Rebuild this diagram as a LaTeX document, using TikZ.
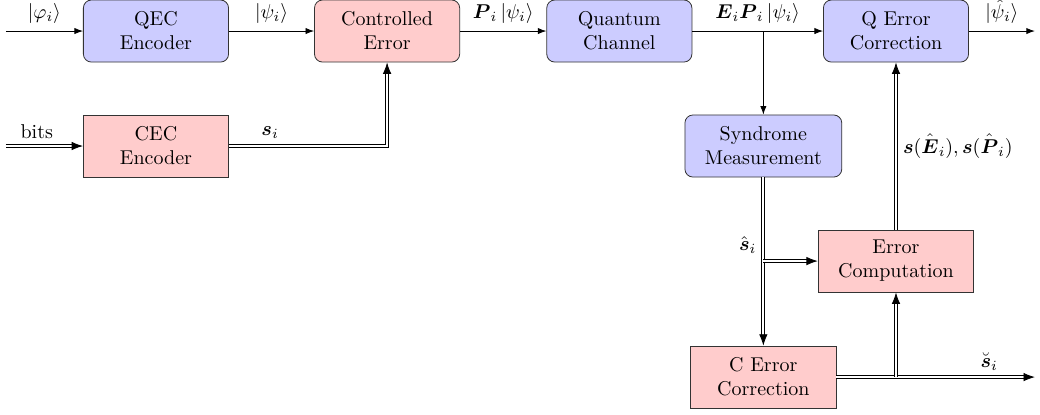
\documentclass[tikz,border=0pt]{standalone}
\usepackage{amsmath}
\usepackage{amssymb}
\usepackage{tikz}
\usetikzlibrary{arrows.meta}

\tikzset{
  qbox/.style={draw=black!80, fill=blue!20, rounded corners=4pt, align=center,
    minimum width=2.55cm, minimum height=1.09cm, inner xsep=10pt},
  cbox/.style={draw=black!80, fill=red!20, align=center,
    minimum width=2.55cm, minimum height=1.09cm, inner xsep=10pt},
  qline/.style={-{Latex[length=1.5mm,width=1.1mm]}},
  cline/.style={double, double distance=1.1pt, -{Latex[length=2mm,width=1.5mm]}}
}

\begin{document}
\begin{tikzpicture}
      \useasboundingbox (0,0) rectangle (18.27,-7.29);
      % boxes
      \node[qbox] (qenc) at (2.74,-0.545) {QEC\\Encoder};
      \node[cbox, rounded corners=4pt] (ctrl) at (6.80,-0.545) {Controlled\\Error};
      \node[qbox] (chan) at (10.88,-0.545) {Quantum\\Channel};
      \node[qbox] (qcor) at (15.74,-0.545) {Q Error\\Correction};
      \node[cbox] (cenc) at (2.74,-2.565) {CEC\\Encoder};
      \node[qbox] (synd) at (13.41,-2.565) {Syndrome\\Measurement};
      \node[cbox] (errc) at (15.74,-4.586) {Error\\Computation};
      \node[cbox] (ccor) at (13.41,-6.624) {C Error\\Correction};
      % free ends
      \coordinate (qin) at (0.105,-0.545);
      \coordinate (qout) at (18.18,-0.545);
      \coordinate (bin) at (0.105,-2.565);
      \coordinate (cout) at (18.18,-6.624);
      \coordinate (tap) at (synd.north |- chan.east);
      \coordinate (shat) at (synd.south |- errc.west);
      \coordinate (ccorout) at (errc.south |- ccor.east);
      % quantum path
      \draw[qline] (qin) -- node[above] {$\lvert\varphi_i\rangle$} (qenc);
      \draw[qline] (qenc) -- node[above] {$\lvert\psi_i\rangle$} (ctrl);
      \draw[qline] (ctrl) -- node[above] {$\boldsymbol{P}_i\,\lvert\psi_i\rangle$} (chan);
      \draw[qline] (chan) -- node[above] {$\boldsymbol{E}_i\boldsymbol{P}_i\,\lvert\psi_i\rangle$} (qcor);
      \draw[qline] (tap) -- (synd);
      \draw[qline] (qcor) -- node[above] {$\lvert\hat{\psi}_i\rangle$} (qout);
      % classical path
      \draw[cline] (bin) -- node[pos=0.4, above] {bits} (cenc);
      \draw[cline] (cenc) -- node[pos=0.26, above] {$\boldsymbol{s}_i$} (cenc -| ctrl.south) -- (ctrl);
      \draw[cline] (synd) -- (ccor);
      \draw[cline] (shat) -- (errc);
      \node[above left] at (shat) {$\hat{\boldsymbol{s}}_i$};
      \draw[cline] (ccor) -- node[pos=0.77, above] {$\breve{\boldsymbol{s}}_i$} (cout);
      \draw[cline] (ccorout) -- (errc);
      \draw[cline] (errc) -- node[right] {$\boldsymbol{s}(\hat{\boldsymbol{E}}_i), \boldsymbol{s}(\hat{\boldsymbol{P}}_i)$} (qcor);
    \end{tikzpicture}
\end{document}
